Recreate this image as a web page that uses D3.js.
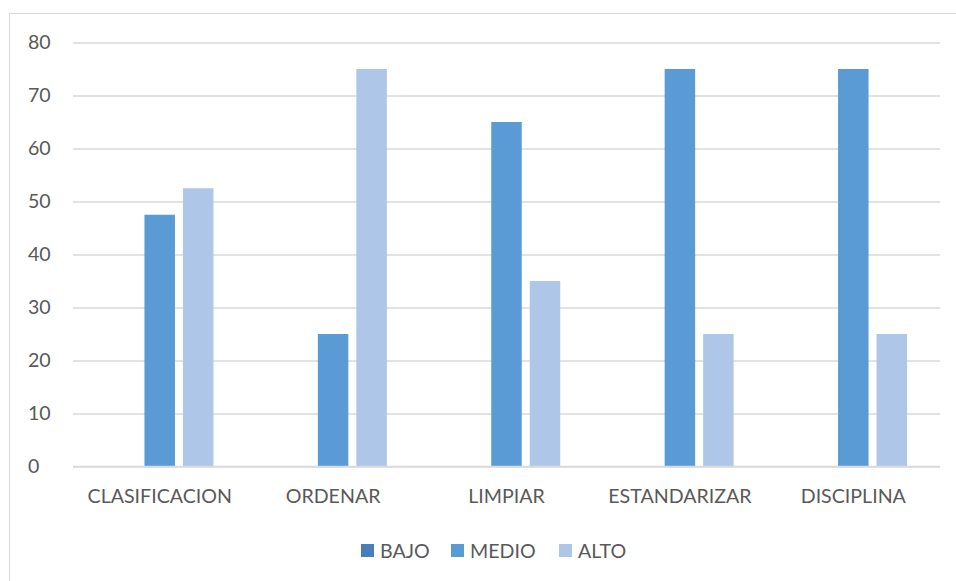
<!DOCTYPE html>
<html><head><meta charset="utf-8">
<script src="https://cdn.jsdelivr.net/npm/d3@7"></script>
<style>body{margin:0;background:#fff}svg{display:block}text{font-family:Lato,"Open Sans",sans-serif;fill:#595959}</style>
</head><body>
<svg id="c" width="956" height="581"></svg>
<script>
const categories = ["CLASIFICACION","ORDENAR","LIMPIAR","ESTANDARIZAR","DISCIPLINA"];
const seriesNames = ["BAJO","MEDIO","ALTO"];
const bajo  = [0,0,0,0,0];
const medio = [47.5,25,65,75,75];
const alto  = [52.5,75,35,25,25];
const yTicks = [0,10,20,30,40,50,60,70,80];
const colors = ["#4a7ebb","#5b9bd5","#aec6e8"];

const values = [bajo, medio, alto];
const svg = d3.select("#c");
svg.append("rect").attr("x",9.5).attr("y",13.5).attr("width",1000).attr("height",1000)
  .attr("fill","none").attr("stroke","#d9d9d9").attr("stroke-width",1);

const L=73, R=940, T=42.5, B=466.5;
const FS=19.6;
const x0 = d3.scaleBand().domain(categories).range([L,R]).paddingInner(0).paddingOuter(0);
const groupW = 107.5;
const x1 = d3.scaleBand().domain(seriesNames).range([0,groupW]).paddingInner(8/38.5).paddingOuter(0);
const y = d3.scaleLinear().domain([0,80]).range([B,T]);

const yAxis = d3.axisLeft(y).tickValues(yTicks).tickSize(-(R-L)).tickPadding(14);
const gy = svg.append("g").attr("transform",`translate(${L},0)`).call(yAxis);
gy.select(".domain").remove();
gy.selectAll(".tick line").attr("stroke","#d9d9d9").attr("stroke-width",1.3);
gy.selectAll(".tick text").attr("font-size",FS).attr("fill","#595959")
  .attr("text-anchor","start").attr("x",-L+28);

const groups = svg.append("g").selectAll("g").data(categories).join("g")
  .attr("transform",c=>`translate(${x0(c)+(x0.bandwidth()-groupW)/2},0)`);
groups.selectAll("rect").data((c,i)=>seriesNames.map((s,j)=>({s,j,v:values[j][i]}))).join("rect")
  .attr("x",d=>x1(d.s)).attr("width",x1.bandwidth())
  .attr("y",d=>y(d.v)).attr("height",d=>y(0)-y(d.v))
  .attr("fill",d=>colors[d.j]);

svg.append("line").attr("x1",L).attr("x2",R).attr("y1",B).attr("y2",B)
  .attr("stroke","#d9d9d9").attr("stroke-width",1.3);

const xAxis = d3.axisBottom(x0).tickSize(0).tickPadding(23);
const gx = svg.append("g").attr("transform",`translate(0,${B})`).call(xAxis);
gx.select(".domain").remove();
gx.selectAll(".tick text").attr("font-size",FS).attr("fill","#595959");

const legX = [361, 451, 559];
const leg = svg.append("g");
seriesNames.forEach((s,j)=>{
  leg.append("rect").attr("x",legX[j]).attr("y",544).attr("width",13).attr("height",13).attr("fill",colors[j]);
  leg.append("text").attr("x",legX[j]+19).attr("y",557.5).attr("font-size",FS).text(s);
});
</script>
</body></html>
